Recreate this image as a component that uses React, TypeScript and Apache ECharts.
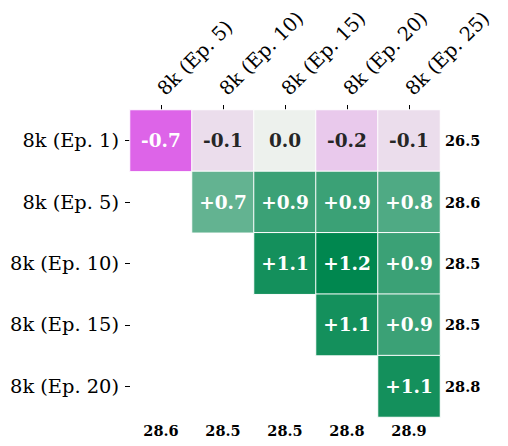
import React, { useEffect, useRef } from "react";
import * as echarts from "echarts";

const rowLabels = ["8k (Ep. 1)", "8k (Ep. 5)", "8k (Ep. 10)", "8k (Ep. 15)", "8k (Ep. 20)"];
const colLabels = ["8k (Ep. 5)", "8k (Ep. 10)", "8k (Ep. 15)", "8k (Ep. 20)", "8k (Ep. 25)"];
const rowScores = ["26.5", "28.6", "28.5", "28.5", "28.8"];
const colScores = ["28.6", "28.5", "28.5", "28.8", "28.9"];
const deltaRow1 = [-0.7, -0.1, 0.0, -0.2, -0.1];
const deltaRow2 = [null, 0.7, 0.9, 0.9, 0.8];
const deltaRow3 = [null, null, 1.1, 1.2, 0.9];
const deltaRow4 = [null, null, null, 1.1, 0.9];
const deltaRow5 = [null, null, null, null, 1.1];
const deltas: (number | null)[][] = [deltaRow1, deltaRow2, deltaRow3, deltaRow4, deltaRow5];

const FONT = "DejaVu Serif";

export default function App() {
  const ref = useRef<HTMLDivElement>(null);
  useEffect(() => {
    if (!ref.current) return;
    const chart = echarts.init(ref.current, null, { renderer: "svg" });
    const data: any[] = [];
    deltas.forEach((row, r) => {
      row.forEach((v, c) => {
        if (v === null) return;
        data.push({
          value: [c, r, v],
          label: { color: Math.abs(v) >= 0.5 ? "#ffffff" : "#262626" },
        });
      });
    });
    chart.setOption({
      animation: false,
      backgroundColor: "#ffffff",
      grid: { left: 130, top: 110, width: 310, height: 307, containLabel: false },
      xAxis: [
        {
          type: "category",
          data: colLabels,
          position: "top",
          axisLine: { show: false },
          axisTick: { show: true, alignWithLabel: true, length: 5, lineStyle: { color: "#000", width: 1 } },
          axisLabel: {
            rotate: -45,
            fontFamily: FONT,
            fontSize: 19.4,
            color: "#000",
            margin: 18,
            padding: [0, 0, 8, 0],
          },
          splitLine: { show: false },
        },
        {
          type: "category",
          data: colScores,
          position: "bottom",
          axisLine: { show: false },
          axisTick: { show: false },
          axisLabel: { fontFamily: FONT, fontSize: 14.5, fontWeight: "bold", color: "#000", margin: 6 },
          splitLine: { show: false },
        },
      ],
      yAxis: [
        {
          type: "category",
          data: rowLabels,
          inverse: true,
          axisLine: { show: false },
          axisTick: { show: true, alignWithLabel: true, length: 5, lineStyle: { color: "#000", width: 1 } },
          axisLabel: { fontFamily: FONT, fontSize: 19.4, color: "#000", margin: 11 },
          splitLine: { show: false },
        },
        {
          type: "category",
          data: rowScores,
          inverse: true,
          position: "right",
          axisLine: { show: false },
          axisTick: { show: false },
          axisLabel: { fontFamily: FONT, fontSize: 14.5, fontWeight: "bold", color: "#000", margin: 5 },
          splitLine: { show: false },
        },
      ],
      visualMap: {
        show: false,
        type: "continuous",
        min: -1.2,
        max: 1.2,
        dimension: 2,
        seriesIndex: 0,
        inRange: { color: ["#d200e4", "#edf1ed", "#00874f"] },
      },
      series: [
        {
          type: "heatmap",
          xAxisIndex: 0,
          yAxisIndex: 0,
          data,
          itemStyle: { borderColor: "#ffffff", borderWidth: 1 },
          label: {
            show: true,
            fontFamily: FONT,
            fontSize: 18.5,
            fontWeight: "bold",
            formatter: (p: any) => {
              const v = p.value[2];
              if (v > 0) return "+" + v.toFixed(1);
              return v.toFixed(1);
            },
          },
          emphasis: { disabled: true },
        },
      ],
    });
    return () => chart.dispose();
  }, []);
  return <div ref={ref} style={{ position: "fixed", left: 0, top: 0, width: 508, height: 446 }} />;
}
